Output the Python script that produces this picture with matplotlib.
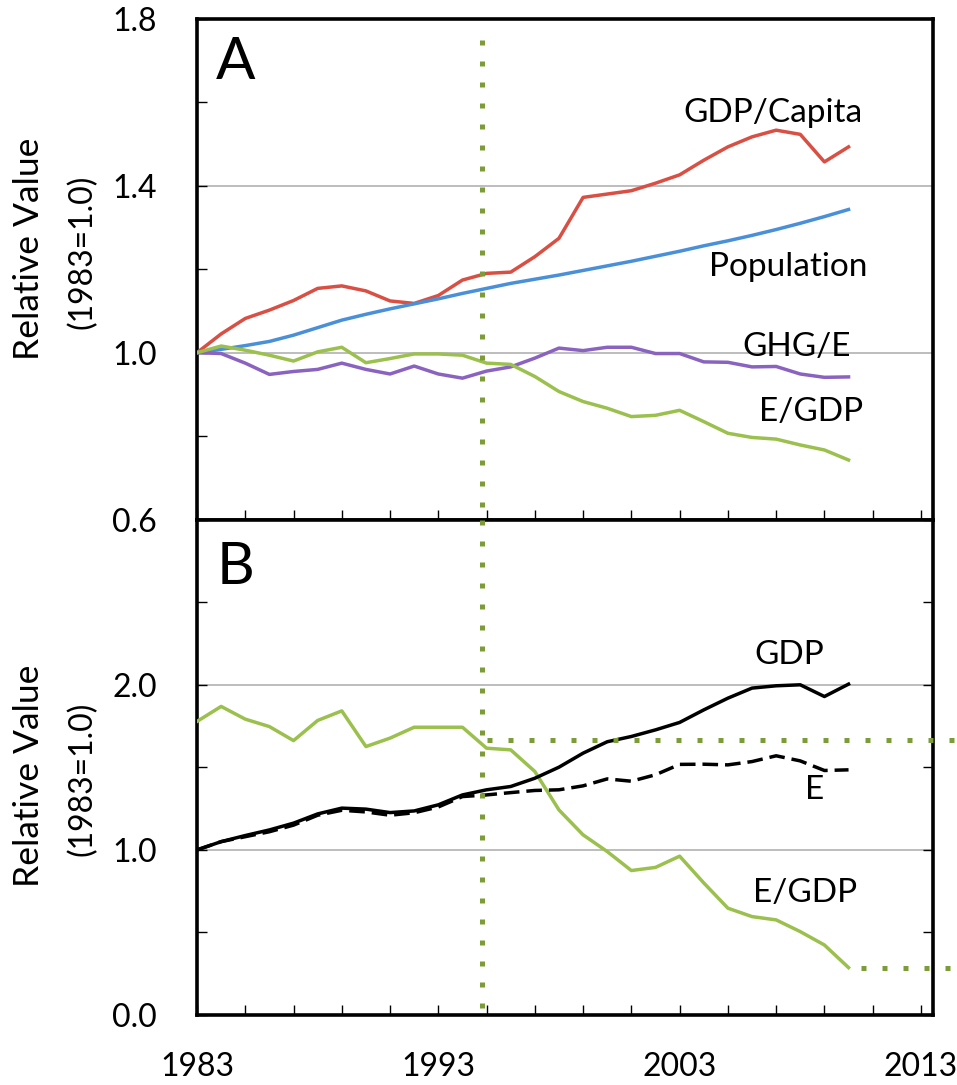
import matplotlib
matplotlib.use("Agg")
import matplotlib.pyplot as plt
from matplotlib.ticker import FixedLocator, FuncFormatter

plt.rcParams['font.family'] = ['Lato', 'DejaVu Sans']

years = list(range(1983, 2011))

# Panel A
gdp_per_capita = [1.000, 1.045, 1.082, 1.102, 1.125, 1.154, 1.160, 1.148, 1.124, 1.118,
                  1.137, 1.174, 1.190, 1.193, 1.230, 1.274, 1.372, 1.380, 1.388, 1.406,
                  1.426, 1.461, 1.493, 1.517, 1.533, 1.523, 1.457, 1.493]
population = [1.000, 1.008, 1.017, 1.027, 1.042, 1.060, 1.078, 1.092, 1.105, 1.117,
              1.129, 1.142, 1.154, 1.166, 1.176, 1.186, 1.197, 1.208, 1.219, 1.231,
              1.243, 1.256, 1.268, 1.281, 1.295, 1.310, 1.326, 1.343]
ghg_per_e = [1.000, 0.998, 0.975, 0.948, 0.955, 0.960, 0.975, 0.960, 0.949, 0.968,
             0.949, 0.939, 0.956, 0.966, 0.987, 1.011, 1.005, 1.013, 1.013, 0.998,
             0.998, 0.978, 0.977, 0.966, 0.967, 0.949, 0.941, 0.942]
e_per_gdp_a = [1.000, 1.016, 1.006, 0.994, 0.980, 1.002, 1.013, 0.976, 0.986, 0.997,
               0.997, 0.994, 0.975, 0.972, 0.943, 0.907, 0.883, 0.867, 0.847, 0.850,
               0.862, 0.835, 0.807, 0.797, 0.793, 0.779, 0.767, 0.743]

# Panel B
gdp = [1.000, 1.050, 1.087, 1.121, 1.162, 1.218, 1.253, 1.247, 1.226, 1.236,
       1.273, 1.333, 1.364, 1.384, 1.434, 1.501, 1.586, 1.655, 1.687, 1.727,
       1.772, 1.848, 1.919, 1.980, 1.994, 2.000, 1.929, 2.004]
energy = [1.000, 1.050, 1.080, 1.110, 1.150, 1.210, 1.240, 1.230, 1.210, 1.225,
          1.260, 1.323, 1.333, 1.347, 1.360, 1.364, 1.388, 1.430, 1.416, 1.455,
          1.518, 1.519, 1.515, 1.535, 1.570, 1.539, 1.481, 1.485]
e_per_gdp_b = [1.778, 1.869, 1.792, 1.747, 1.662, 1.784, 1.842, 1.626, 1.677, 1.743,
               1.743, 1.743, 1.616, 1.606, 1.475, 1.242, 1.091, 0.990, 0.875, 0.894,
               0.962, 0.800, 0.647, 0.596, 0.576, 0.505, 0.424, 0.287]

marker_year = 1994.8
marker_level_b = 1.665
end_level_b = 0.285

x_tick_years = list(range(1983, 2014, 2))

RED = '#d94f43'
BLUE = '#4a90d9'
PURPLE = '#8a63c0'
GREEN = '#9bc04e'
DOT = '#7c9c38'
GRID = '#b8b8b8'

W, H = 957, 1085
fig = plt.figure(figsize=(W / 100, H / 100), dpi=100)
fig.patch.set_facecolor('white')

L, R = 197, 933
axA = fig.add_axes([L / W, 1 - 519.7 / H, (R - L) / W, (519.7 - 18.7) / H])
axB = fig.add_axes([L / W, 1 - 1015 / H, (R - L) / W, (1015 - 519.7) / H])

lw = 2.5
for ax in (axA, axB):
    ax.set_xlim(1983, 2013.5)
    for s in ax.spines.values():
        s.set_linewidth(2.6)
        s.set_color('black')
    ax.xaxis.set_major_locator(FixedLocator(x_tick_years))
    ax.tick_params(axis='x', direction='in', length=7, width=1.0, pad=27,
                   labelsize=23, top=False)
    ax.tick_params(axis='y', direction='in', length=7, width=1.0, pad=29,
                   labelsize=23)

# Panel A
axA.set_ylim(0.6, 1.8)
axA.yaxis.set_major_locator(FixedLocator([0.6, 0.8, 1.0, 1.2, 1.4, 1.6, 1.8]))
axA.yaxis.set_major_formatter(FuncFormatter(
    lambda v, p: f"{v:.1f}" if round(v * 10) % 4 == 2 else ""))
axA.set_xticklabels([])
for g in (1.0, 1.4):
    axA.axhline(g, color=GRID, lw=1.3, zorder=1)
axA.plot(years, gdp_per_capita, color=RED, lw=lw, zorder=3)
axA.plot(years, population, color=BLUE, lw=lw, zorder=3)
axA.plot(years, ghg_per_e, color=PURPLE, lw=lw, zorder=3)
axA.plot(years, e_per_gdp_a, color=GREEN, lw=lw, zorder=3)
axA.plot([marker_year, marker_year], [1.75, 0.6], color=DOT, lw=3.6,
         linestyle=(0, (1, 3.2)), dash_capstyle='butt',
         clip_on=False, zorder=5)

axA.text(1983.8, 1.695, 'A', fontsize=42, ha='left', va='center')
axA.text(2006.85, 1.574, 'GDP/Capita', fontsize=24, ha='center', va='center')
axA.text(2007.5, 1.205, 'Population', fontsize=24, ha='center', va='center')
axA.text(2007.85, 1.014, 'GHG/E', fontsize=24, ha='center', va='center')
axA.text(2008.45, 0.858, 'E/GDP', fontsize=24, ha='center', va='center')

# Panel B
axB.set_ylim(0, 3.0)
axB.yaxis.set_major_locator(FixedLocator([0, 0.5, 1.0, 1.5, 2.0, 2.5, 3.0]))
axB.yaxis.set_major_formatter(FuncFormatter(
    lambda v, p: f"{v:.1f}" if round(v * 10) % 10 == 0 and v < 2.9 else ""))
axB.xaxis.set_major_formatter(FuncFormatter(
    lambda v, p: f"{int(round(v))}" if int(round(v - 1983)) % 10 == 0 else ""))
axB.tick_params(axis='y', right=True)
for g in (1.0, 2.0):
    axB.axhline(g, color=GRID, lw=1.3, zorder=1)
axB.plot(years, e_per_gdp_b, color=GREEN, lw=lw, zorder=3)
axB.plot(years, gdp, color='black', lw=lw, zorder=4)
axB.plot(years, energy, color='black', lw=lw, linestyle=(0, (4.5, 2)), zorder=4)
axB.plot([marker_year, marker_year], [3.0, 0.03], color=DOT, lw=3.6,
         linestyle=(0, (1, 3.2)), dash_capstyle='butt',
         clip_on=False, zorder=5)
axB.plot([marker_year + 0.2, 2014.6], [marker_level_b, marker_level_b], color=DOT,
         lw=3.6, linestyle=(0, (1, 3.2)), dash_capstyle='butt', clip_on=False, zorder=5)
axB.plot([2010.5, 2014.6], [end_level_b, end_level_b], color=DOT,
         lw=3.6, linestyle=(0, (1, 3.2)), dash_capstyle='butt', clip_on=False, zorder=5)

axB.text(1983.8, 2.71, 'B', fontsize=42, ha='left', va='center')
axB.text(2007.55, 2.18, 'GDP', fontsize=24, ha='center', va='center')
axB.text(2008.6, 1.364, 'E', fontsize=24, ha='center', va='center')
axB.text(2008.2, 0.739, 'E/GDP', fontsize=24, ha='center', va='center')

# Y axis titles
for yc in (249, 776):
    fig.text(29 / W, 1 - yc / H, 'Relative Value', rotation=90, ha='center',
             va='center', fontsize=25.5)
    fig.text(82 / W, 1 - (yc + 3) / H, '(1983=1.0)', rotation=90, ha='center',
             va='center', fontsize=23)

fig.savefig('out.png', dpi=100, facecolor='white')
